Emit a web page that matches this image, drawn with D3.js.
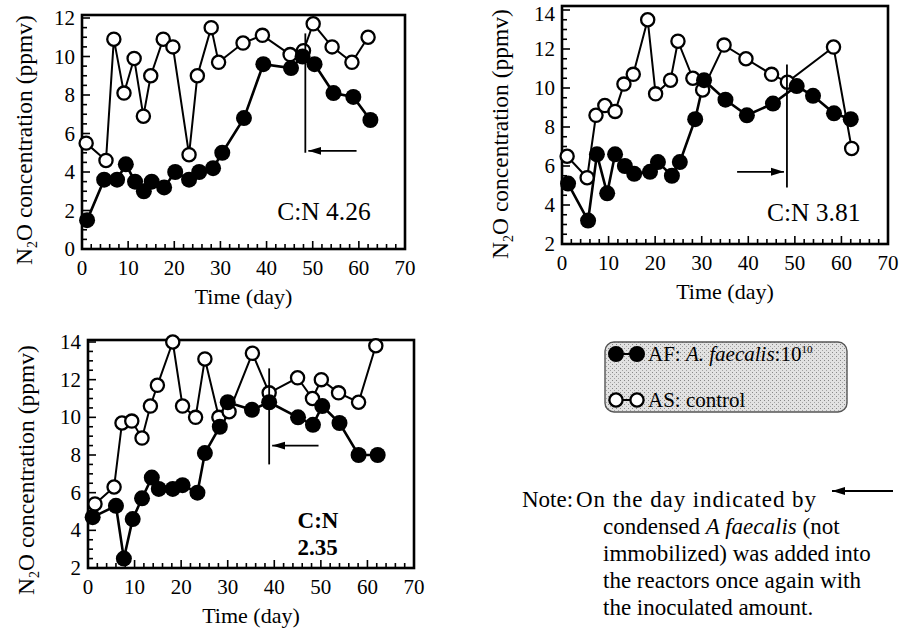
<!DOCTYPE html>
<html>
<head>
<meta charset="utf-8">
<script src="https://cdn.jsdelivr.net/npm/d3@7"></script>
<style>
  body { margin: 0; background: #fff; }
  svg { display: block; }
  text { font-family: "Liberation Serif", "Times New Roman", Times, serif; fill: #000; }
</style>
</head>
<body>
<svg width="900" height="630" font-family="Liberation Serif, Times New Roman, serif"></svg>
<script>
// ---- data (day, N2O ppmv) ----
// panel 1, C:N 4.26
const p1DaysAS = [0.9, 5.2, 6.9, 9.1, 11.3, 13.3, 14.9, 17.6, 19.7, 23.2, 25, 28, 29.6, 34.9, 39.1, 45.1, 48, 50.1, 54.2, 58.5, 62];
const p1AS     = [5.5, 4.6, 10.9, 8.1, 9.9, 6.9, 9.0, 10.9, 10.5, 4.9, 9.0, 11.5, 9.7, 10.7, 11.1, 10.1, 10.3, 11.7, 10.5, 9.7, 11.0];
const p1DaysAF = [1.1, 4.8, 7.6, 9.5, 11.5, 13.4, 15.1, 17.8, 20.2, 23.2, 25.4, 28.4, 30.4, 35.1, 39.3, 45.3, 47.8, 50.4, 54.5, 58.8, 62.5];
const p1AF     = [1.5, 3.6, 3.6, 4.4, 3.5, 3.0, 3.5, 3.2, 4.0, 3.6, 4.0, 4.2, 5.0, 6.8, 9.6, 9.4, 10.0, 9.6, 8.1, 7.9, 6.7];

// panel 2, C:N 3.81
const p2DaysAS = [1.1, 5.4, 7.3, 9.2, 11.4, 13.3, 15.3, 18.4, 20.1, 23.3, 24.9, 28.1, 30.2, 34.8, 39.5, 45, 48.4, 58.3, 62.2];
const p2AS     = [6.5, 5.4, 8.6, 9.1, 8.8, 10.2, 10.7, 13.5, 9.7, 10.4, 12.4, 10.5, 9.9, 12.2, 11.5, 10.7, 10.3, 12.1, 6.9];
const p2DaysAF = [1.3, 5.6, 7.5, 9.7, 11.4, 13.5, 15.5, 18.9, 20.6, 23.6, 25.3, 28.6, 30.5, 35.1, 39.7, 45.3, 50.4, 53.9, 58.4, 62];
const p2AF     = [5.1, 3.2, 6.6, 4.6, 6.6, 6.0, 5.6, 5.7, 6.2, 5.5, 6.2, 8.4, 10.4, 9.4, 8.6, 9.2, 10.1, 9.6, 8.7, 8.4];

// panel 3, C:N 2.35
const p3DaysAS = [1.5, 5.6, 7.3, 9.4, 11.6, 13.4, 14.9, 18.2, 20.3, 23.1, 25.1, 28.1, 30.3, 35.3, 38.9, 45, 48.2, 50.1, 53.8, 58.1, 61.8];
const p3AS     = [5.4, 6.3, 9.7, 9.8, 8.9, 10.6, 11.7, 14.0, 10.6, 10.0, 13.1, 10.0, 10.3, 13.4, 11.3, 12.1, 11.0, 12.0, 11.3, 10.8, 13.8];
const p3DaysAF = [1, 6, 7.7, 9.6, 11.6, 13.7, 15.2, 18.2, 20.3, 23.5, 25.1, 28.3, 30, 35.2, 38.9, 45.1, 48.3, 50.3, 54, 58.1, 62.2];
const p3AF     = [4.7, 5.3, 2.5, 4.6, 5.7, 6.8, 6.2, 6.2, 6.4, 6.0, 8.1, 9.5, 10.8, 10.4, 10.8, 10.0, 9.6, 10.6, 9.7, 8.0, 8.0];

// re-inoculation marks: day of line, line top/bottom, arrow level, arrow tail day
const p1Mark = { day: 48.4, top: 11.2, bottom: 5.0, level: 5.1, tail: 59.5 };
const p2Mark = { day: 48.3, top: 11.2, bottom: 4.9, level: 5.7, tail: 37.6 };
const p3Mark = { day: 38.9, top: 12.6, bottom: 7.5, level: 8.5, tail: 49.5 };

const xTicks = [0, 10, 20, 30, 40, 50, 60, 70];
const p1YTicks = [0, 2, 4, 6, 8, 10, 12];
const p23YTicks = [2, 4, 6, 8, 10, 12, 14];

const svg = d3.select("svg");

const panels = [
  { x0: 82, x1: 405, yLo: 0, yHi: 12, py0: 249, py1: 18, top: 15, yTicks: p1YTicks,
    dAS: p1DaysAS, vAS: p1AS, dAF: p1DaysAF, vAF: p1AF, mark: p1Mark,
    label: ["C:N 4.26"], labelPos: [42.3, 1.5], bold: false, ylx: 24, yly: 140 },
  { x0: 562, x1: 888, yLo: 2, yHi: 14, py0: 244, py1: 10, top: 6, yTicks: p23YTicks,
    dAS: p2DaysAS, vAS: p2AS, dAF: p2DaysAF, vAF: p2AF, mark: p2Mark,
    label: ["C:N 3.81"], labelPos: [44, 3.2], bold: false, ylx: 500, yly: 134 },
  { x0: 88, x1: 414, yLo: 2, yHi: 14, py0: 568, py1: 342, top: 340, yTicks: p23YTicks,
    dAS: p3DaysAS, vAS: p3AS, dAF: p3DaysAF, vAF: p3AF, mark: p3Mark,
    label: ["C:N", "2.35"], labelPos: [45, 4.1], bold: true, ylx: 26, yly: 470 }
];

// arrowhead
const defs = svg.append("defs");
defs.append("marker")
  .attr("id", "head")
  .attr("viewBox", "0 -5 13 10")
  .attr("refX", 13).attr("refY", 0)
  .attr("markerWidth", 13).attr("markerHeight", 10)
  .attr("markerUnits", "userSpaceOnUse")
  .attr("orient", "auto")
  .append("path").attr("d", "M0,-4L13,0L0,4Z").attr("fill", "#000");

panels.forEach(function(p) {
  const x = d3.scaleLinear().domain([0, 70]).range([p.x0, p.x1]);
  const y = d3.scaleLinear().domain([p.yLo, p.yHi]).range([p.py0, p.py1]);
  const g = svg.append("g");

  // frame
  g.append("rect")
    .attr("x", p.x0).attr("y", p.top)
    .attr("width", p.x1 - p.x0).attr("height", p.py0 - p.top)
    .attr("fill", "none").attr("stroke", "#000").attr("stroke-width", 2.6);

  // inward ticks
  const xMinor = d3.range(0, 71, 2);
  g.selectAll(".xt").data(xMinor).enter().append("line")
    .attr("x1", d => x(d)).attr("x2", d => x(d))
    .attr("y1", p.py0).attr("y2", d => p.py0 - (d % 10 === 0 ? 8 : 5))
    .attr("stroke", "#000").attr("stroke-width", 1.6);
  const yMinor = d3.range(p.yLo, p.yHi + 0.01, 0.5);
  g.selectAll(".yt").data(yMinor).enter().append("line")
    .attr("x1", p.x0).attr("x2", d => p.x0 + (d % 2 === 0 ? 8 : 5))
    .attr("y1", d => y(d)).attr("y2", d => y(d))
    .attr("stroke", "#000").attr("stroke-width", 1.6);

  // tick labels
  g.selectAll(".xl").data(xTicks).enter().append("text")
    .attr("x", d => x(d)).attr("y", p.py0 + 26)
    .attr("text-anchor", "middle").attr("font-size", 21)
    .text(d => d);
  g.selectAll(".yl").data(p.yTicks).enter().append("text")
    .attr("x", p.x0 - 7).attr("y", d => Math.max(y(d) + 7, 21))
    .attr("text-anchor", "end").attr("font-size", 21)
    .text(d => d);

  // axis titles
  g.append("text")
    .attr("x", (p.x0 + p.x1) / 2).attr("y", p.py0 + 55)
    .attr("text-anchor", "middle").attr("font-size", 22)
    .text("Time (day)");
  const yt = g.append("text")
    .attr("transform", `translate(${p.ylx},${p.yly}) rotate(-90)`)
    .attr("text-anchor", "middle").attr("dy", "0.35em").attr("font-size", 23.5);
  yt.append("tspan").text("N");
  yt.append("tspan").attr("font-size", 14).attr("dy", 5).text("2");
  yt.append("tspan").attr("dy", -5).text("O concentration (ppmv)");

  // series
  const line = d3.line().x(d => x(d[0])).y(d => y(d[1]));
  const as = d3.zip(p.dAS, p.vAS);
  const af = d3.zip(p.dAF, p.vAF);

  g.append("path").datum(as).attr("d", line)
    .attr("fill", "none").attr("stroke", "#000").attr("stroke-width", 2);
  g.append("path").datum(af).attr("d", line)
    .attr("fill", "none").attr("stroke", "#000").attr("stroke-width", 2.6);

  g.selectAll(".as").data(as).enter().append("circle")
    .attr("cx", d => x(d[0])).attr("cy", d => y(d[1])).attr("r", 6.6)
    .attr("fill", "#fff").attr("stroke", "#000").attr("stroke-width", 2.3);
  g.selectAll(".af").data(af).enter().append("circle")
    .attr("cx", d => x(d[0])).attr("cy", d => y(d[1])).attr("r", 8)
    .attr("fill", "#000");

  // re-inoculation marker
  const m = p.mark;
  g.append("line")
    .attr("x1", x(m.day)).attr("x2", x(m.day))
    .attr("y1", y(m.top)).attr("y2", y(m.bottom))
    .attr("stroke", "#000").attr("stroke-width", 1.8);
  g.append("line")
    .attr("x1", x(m.tail)).attr("x2", x(m.day) + (m.tail > m.day ? 3 : -3))
    .attr("y1", y(m.level)).attr("y2", y(m.level))
    .attr("stroke", "#000").attr("stroke-width", 1.8)
    .attr("marker-end", "url(#head)");

  // C:N label
  p.label.forEach(function(t, i) {
    g.append("text")
      .attr("x", x(p.labelPos[0])).attr("y", y(p.labelPos[1]) + i * 27)
      .attr("font-size", p.bold ? 23 : 25.5)
      .attr("font-weight", p.bold ? "bold" : "normal")
      .text(t);
  });
});

// ---- legend ----
const pat = defs.append("pattern").attr("id", "stipple")
  .attr("width", 4).attr("height", 4).attr("patternUnits", "userSpaceOnUse");
pat.append("rect").attr("width", 4).attr("height", 4).attr("fill", "#e2e2e2");
pat.append("rect").attr("x", 0).attr("y", 0).attr("width", 1).attr("height", 1).attr("fill", "#888");
pat.append("rect").attr("x", 2).attr("y", 2).attr("width", 1).attr("height", 1).attr("fill", "#a4a4a4");

const lg = svg.append("g");
lg.append("rect")
  .attr("x", 605).attr("y", 342).attr("width", 242).attr("height", 70)
  .attr("rx", 9).attr("fill", "url(#stipple)")
  .attr("stroke", "#555").attr("stroke-width", 1.4);

const legendRows = [
  { y: 354, filled: true },
  { y: 400, filled: false }
];
legendRows.forEach(function(r) {
  lg.append("line").attr("x1", 616).attr("x2", 637).attr("y1", r.y).attr("y2", r.y)
    .attr("stroke", "#000").attr("stroke-width", 2);
  [616, 637].forEach(function(cx) {
    lg.append("circle").attr("cx", cx).attr("cy", r.y)
      .attr("r", r.filled ? 8 : 6.6)
      .attr("fill", r.filled ? "#000" : "#fff")
      .attr("stroke", "#000").attr("stroke-width", r.filled ? 0 : 2.3);
  });
});
const t1 = lg.append("text").attr("x", 648).attr("y", 361).attr("font-size", 21);
t1.append("tspan").text("AF: ");
t1.append("tspan").attr("font-style", "italic").text("A. faecalis");
t1.append("tspan").text(":10");
t1.append("tspan").attr("font-size", 11).attr("dy", -8).text("10");
lg.append("text").attr("x", 648).attr("y", 407).attr("font-size", 21).text("AS: control");

// ---- note ----
const note = svg.append("g");
note.append("text").attr("x", 522).attr("y", 507).attr("font-size", 23).text("Note:");
const noteLines = [
  ["On the day indicated by"],
  ["condensed ", "A faecalis", " (not"],
  ["immobilized) was added into"],
  ["the reactors once again with"],
  ["the inoculated amount."]
];
noteLines.forEach(function(parts, i) {
  const t = note.append("text")
    .attr("x", i === 0 ? 576 : 603).attr("y", 507 + i * 27).attr("font-size", 23);
  if (i === 0) t.attr("textLength", 240).attr("lengthAdjust", "spacing");
  parts.forEach(function(s, j) {
    t.append("tspan").attr("font-style", j === 1 ? "italic" : "normal").text(s);
  });
});
note.append("line")
  .attr("x1", 893).attr("x2", 832).attr("y1", 491).attr("y2", 491)
  .attr("stroke", "#000").attr("stroke-width", 1.8)
  .attr("marker-end", "url(#head)");
</script>
</body>
</html>
